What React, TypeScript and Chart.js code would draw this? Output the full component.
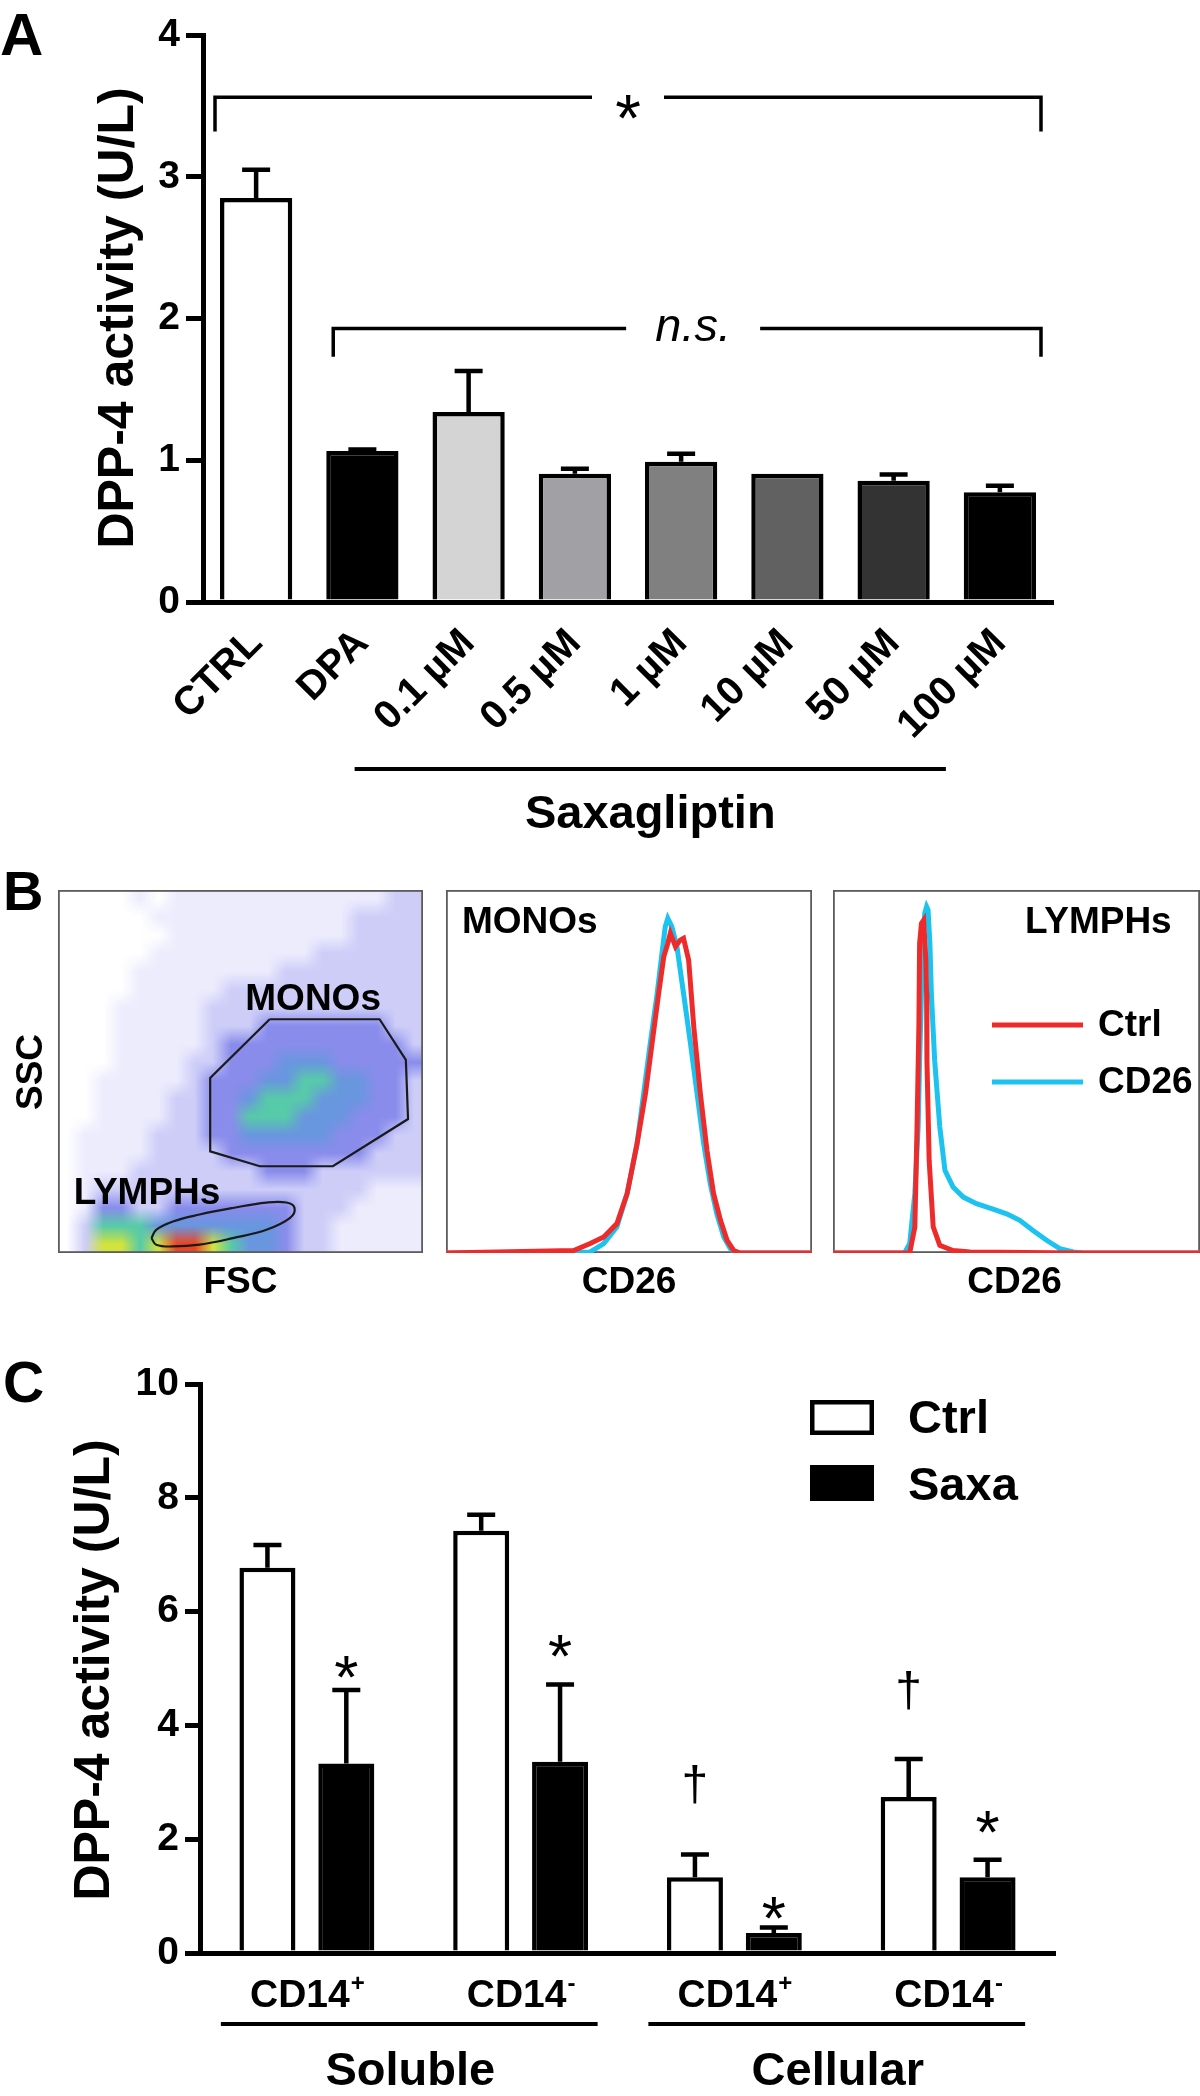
import React, { useEffect, useRef } from 'react';
import { Chart, registerables } from 'chart.js';

Chart.register(...registerables);

const FONT = '"Liberation Sans", Arial, Helvetica, sans-serif';
Chart.defaults.font.family = FONT;

// ---------------- Panel A data ----------------
const aCategories = ['CTRL', 'DPA', '0.1 µM', '0.5 µM', '1 µM', '10 µM', '50 µM', '100 µM'];
const aMeans = [2.85, 1.065, 1.34, 0.905, 0.99, 0.905, 0.855, 0.775];
const aErrTops = [3.05, 1.075, 1.63, 0.94, 1.045, 0.905, 0.9, 0.82];
const aFills = ['#ffffff', '#000000', '#d4d4d4', '#a1a1a5', '#808080', '#616161', '#333333', '#000000'];
const aYTicks = [0, 1, 2, 3, 4];
const aStarBracket = { from: 0, to: 7, y: 3.56, drop: 3.32 };
const aNsBracket = { from: 1, to: 7, y: 1.93, drop: 1.73 };
const aGroupLabel = 'Saxagliptin';
const yTitle = 'DPP-4 activity (U/L)';

// ---------------- Panel B data ----------------
// density levels of the FSC/SSC dot plot, read on a 20 x 20 grid (top row first)
const flowDensity = [
  '00001011111111111122',
  '00000111111111112222',
  '00000011111111112222',
  '00000111111111222222',
  '00001111111122222222',
  '00001111122222222222',
  '00011111222222222222',
  '00011111222333333322',
  '00011111233333333332',
  '00011112233344433333',
  '00111112333445544332',
  '00111122334555444332',
  '00111122335554443332',
  '01111222334444433322',
  '01111222233333333222',
  '01112222222333222222',
  '01222222222222222111',
  '01332233333332221111',
  '02555444444432211111',
  '02665677654432211111',
];
const densityColors = [
  'rgba(255,255,255,0)',
  'rgba(70,70,235,0.1)',
  'rgba(60,60,228,0.26)',
  'rgba(45,50,220,0.56)',
  'rgba(40,105,210,0.7)',
  'rgba(50,190,150,0.82)',
  'rgba(205,225,45,0.93)',
  'rgba(235,60,25,0.96)',
];
const monoGateX = [58.0, 88.1, 95.3, 95.9, 75.3, 55.3, 41.7, 41.7, 58.0];
const monoGateY = [64.4, 64.4, 53.2, 36.9, 23.9, 23.9, 28.0, 48.2, 64.4];
const lymphGateX = [25.6, 26.9, 31.5, 38.8, 47.9, 57.1, 62.6, 64.8, 63.5, 57.1, 47.9, 38.8, 31.5, 26.9, 25.6];
const lymphGateY = [4.1, 6.4, 8.7, 10.6, 12.4, 13.9, 13.9, 12.4, 9.6, 6.4, 4.1, 2.3, 1.8, 2.3, 4.1];

const monoCtrlX = [0, 34.9, 39.4, 43.1, 46.7, 49.5, 52.2, 54.5, 56.3, 58.1, 59.5, 60.6, 61.3, 62.7, 64.0, 64.9, 66.3, 67.7, 69.5, 71.3, 73.1, 75.0, 76.8, 78.6, 80.4, 100];
const monoCtrlY = [0, 0.7, 2.6, 4.4, 8.1, 16.4, 30.1, 43.9, 57.7, 71.5, 81.6, 85.3, 88.1, 84.4, 86.2, 86.7, 80.7, 62.3, 43.9, 28.3, 16.4, 9.0, 3.5, 0.7, 0, 0];
const monoCd26X = [0, 39.4, 43.1, 46.7, 49.5, 52.2, 54.0, 55.8, 57.7, 59.0, 59.9, 60.6, 61.7, 63.1, 64.9, 66.8, 68.6, 70.4, 72.2, 74.0, 75.9, 77.7, 79.5, 100];
const monoCd26Y = [0, 0.3, 2.6, 7.2, 16.4, 30.1, 43.9, 57.7, 71.5, 82.5, 89.9, 92.2, 89.9, 84.4, 71.5, 57.7, 43.9, 30.1, 19.1, 10.8, 4.4, 1.2, 0, 0];
const lymphCtrlX = [0, 20.9, 22.3, 22.9, 23.4, 23.6, 24.1, 24.7, 25.3, 25.5, 25.6, 26.2, 27.3, 29.1, 32.7, 37.3, 67.3, 100];
const lymphCtrlY = [0, 0, 7.2, 34.7, 62.3, 85.3, 90.8, 91.7, 80.7, 71.5, 53.1, 25.5, 7.2, 2.1, 0.7, 0.3, 0, 0];
const lymphCd26X = [0, 19.5, 20.9, 22.3, 23.2, 23.6, 24.1, 24.5, 25.0, 25.5, 25.9, 26.4, 26.8, 27.7, 29.1, 30.5, 32.7, 35.5, 39.1, 43.6, 47.3, 50.9, 54.5, 58.2, 61.8, 65.5, 68.2, 100];
const lymphCd26Y = [0, 0, 2.6, 16.4, 34.7, 53.1, 71.5, 85.3, 93.6, 95.4, 94.5, 85.3, 71.5, 53.1, 34.7, 22.8, 18.2, 15.4, 13.6, 12.1, 10.8, 9.0, 6.2, 3.5, 1.2, 0.3, 0, 0];
const histSeries = ['Ctrl', 'CD26'];
const RED = '#ee2b2b';
const CYAN = '#1cc3ef';

// ---------------- Panel C data ----------------
const cCategories = ['CD14+', 'CD14-', 'CD14+', 'CD14-'];
const cSeries = ['Ctrl', 'Saxa'];
const cCtrl = [6.77, 7.42, 1.33, 2.74];
const cCtrlErr = [7.17, 7.7, 1.73, 3.41];
const cSaxa = [3.33, 3.36, 0.35, 1.33];
const cSaxaErr = [4.62, 4.72, 0.45, 1.64];
const cSaxaStars = [5.11, 5.48, 0.87, 2.39];
const cCtrlDaggers = [null, null, 2.91, 4.57];
const cGroups = [
  { label: 'Soluble', from: 0, to: 1 },
  { label: 'Cellular', from: 2, to: 3 },
];
const cYTicks = [0, 2, 4, 6, 8, 10];

const pts = (xs: number[], ys: number[]) => xs.map((x, i) => ({ x, y: ys[i] }));

function drawStar(ctx: CanvasRenderingContext2D, x: number, yc: number, size: number) {
  ctx.font = `${size}px ${FONT}`;
  ctx.textAlign = 'center';
  ctx.textBaseline = 'alphabetic';
  ctx.fillText('*', x, yc + 0.575 * size);
}

function drawRotTitle(ctx: CanvasRenderingContext2D, text: string, x: number, y: number, size: number) {
  ctx.save();
  ctx.translate(x, y);
  ctx.rotate(-Math.PI / 2);
  ctx.font = `bold ${size}px ${FONT}`;
  ctx.textAlign = 'center';
  ctx.textBaseline = 'middle';
  ctx.fillText(text, 0, 0);
  ctx.restore();
}

function errorBars(ctx: CanvasRenderingContext2D, meta: any, ys: any, means: number[], tops: number[]) {
  ctx.lineWidth = 4.5;
  ctx.strokeStyle = '#000';
  meta.data.forEach((bar: any, i: number) => {
    const yTop = ys.getPixelForValue(means[i]);
    const yErr = ys.getPixelForValue(tops[i]);
    if (yTop - yErr < 1) return;
    ctx.beginPath();
    ctx.moveTo(bar.x, yTop);
    ctx.lineTo(bar.x, yErr);
    ctx.moveTo(bar.x - 14, yErr);
    ctx.lineTo(bar.x + 14, yErr);
    ctx.stroke();
  });
}

const tickFont = { family: FONT, size: 39, weight: 'bold' as const };

// ---------------- Panel A ----------------
const panelAPlugin = {
  id: 'panelA',
  afterDatasetsDraw(chart: any) {
    const ctx: CanvasRenderingContext2D = chart.ctx;
    const ys = chart.scales.y;
    const xs = chart.scales.x;
    const meta = chart.getDatasetMeta(0);
    ctx.save();
    ctx.fillStyle = '#000';
    errorBars(ctx, meta, ys, aMeans, aErrTops);

    // brackets
    ctx.lineWidth = 3.5;
    ctx.lineJoin = 'miter';
    const bracket = (b: any, dxL: number, dxR: number, gapHalf: number, textShift: number) => {
      const l = meta.data[b.from];
      const r = meta.data[b.to];
      const xL = l.x - l.width / 2 + dxL;
      const xR = r.x + r.width / 2 + dxR;
      const y = ys.getPixelForValue(b.y);
      const yd = ys.getPixelForValue(b.drop);
      const xc = (xL + xR) / 2 + textShift;
      ctx.beginPath();
      ctx.moveTo(xL, yd);
      ctx.lineTo(xL, y);
      ctx.lineTo(xc - gapHalf, y);
      ctx.moveTo(xc + gapHalf, y);
      ctx.lineTo(xR, y);
      ctx.lineTo(xR, yd);
      ctx.stroke();
      return { xc, y };
    };
    const s = bracket(aStarBracket, -5, 5, 36, 0);
    drawStar(ctx, s.xc, s.y + 6, 66);
    const n = bracket(aNsBracket, 7, 5, 67, 6);
    ctx.font = `italic 47px ${FONT}`;
    ctx.textAlign = 'center';
    ctx.textBaseline = 'alphabetic';
    ctx.fillText('n.s.', n.xc, n.y + 13);

    // Saxagliptin group line + label
    const gx0 = xs.getPixelForValue(2) - 114;
    const gx1 = xs.getPixelForValue(7) - 54;
    ctx.fillRect(gx0, 767, gx1 - gx0, 4);
    ctx.font = `bold 47px ${FONT}`;
    ctx.fillText(aGroupLabel, (gx0 + gx1) / 2, 828);

    drawRotTitle(ctx, yTitle, 119, 318, 50);
    ctx.font = `bold 60px ${FONT}`;
    ctx.textAlign = 'left';
    ctx.fillText('A', 0, 55);
    ctx.restore();
  },
};

const makePanelA = () => ({
  type: 'bar',
  data: {
    labels: aCategories,
    datasets: [
      {
        data: aMeans,
        backgroundColor: aFills,
        borderColor: '#000',
        borderWidth: 4.5,
        borderSkipped: 'start',
        barPercentage: 0.68,
        categoryPercentage: 1,
      },
    ],
  },
  options: {
    responsive: false,
    animation: false,
    devicePixelRatio: 1,
    layout: { padding: { left: 0, right: 147, top: 35, bottom: 0 } },
    plugins: { legend: { display: false }, tooltip: { enabled: false } },
    scales: {
      x: {
        grid: { display: false, drawTicks: false },
        border: { display: true, color: '#000', width: 5 },
        ticks: {
          autoSkip: false,
          minRotation: 45,
          maxRotation: 45,
          padding: 18,
          color: '#000',
          font: { family: FONT, size: 40, weight: 'bold' },
        },
        afterFit: (s: any) => {
          s.height = 258;
        },
      },
      y: {
        min: aYTicks[0],
        max: aYTicks[aYTicks.length - 1],
        afterBuildTicks: (s: any) => {
          s.ticks = aYTicks.map((v) => ({ value: v }));
        },
        ticks: { padding: 6, color: '#000', font: tickFont },
        grid: { drawOnChartArea: false, drawTicks: true, tickLength: 17, lineWidth: 5, color: '#000' },
        border: { display: true, color: '#000', width: 5 },
        afterFit: (s: any) => {
          s.width = 203;
        },
      },
    },
  },
  plugins: [panelAPlugin],
});

// ---------------- Panel B ----------------
const boxPlugin = (draw: (ctx: CanvasRenderingContext2D, chart: any) => void) => ({
  id: 'boxPlugin',
  beforeDatasetsDraw(chart: any) {
    const ctx: CanvasRenderingContext2D = chart.ctx;
    const a = chart.chartArea;
    ctx.save();
    ctx.strokeStyle = '#5c5c5c';
    ctx.lineWidth = 1.8;
    ctx.strokeRect(a.left + 0.9, a.top + 0.9, a.right - a.left - 1.8, a.bottom - a.top - 1.8);
    ctx.restore();
  },
  afterDraw(chart: any) {
    const ctx: CanvasRenderingContext2D = chart.ctx;
    ctx.save();
    ctx.fillStyle = '#000';
    draw(ctx, chart);
    ctx.restore();
  },
});

// density grid drawn as one small image (one pixel per cell), smoothly scaled onto the plot area
const heatPlugin = {
  id: 'heat',
  beforeDatasetsDraw(chart: any) {
    const ctx: CanvasRenderingContext2D = chart.ctx;
    const xs = chart.scales.x;
    const ys = chart.scales.y;
    const a = chart.chartArea;
    const rows = flowDensity.length;
    const cols = flowDensity[0].length;
    const small = document.createElement('canvas');
    small.width = cols;
    small.height = rows;
    const sctx = small.getContext('2d')!;
    for (let r = 0; r < rows; r++) {
      for (let c = 0; c < cols; c++) {
        const level = Number(flowDensity[r][c]);
        if (!level) continue;
        sctx.fillStyle = densityColors[level];
        sctx.fillRect(c, r, 1, 1);
      }
    }
    const x0 = xs.getPixelForValue(0);
    const x1 = xs.getPixelForValue(100);
    const y0 = ys.getPixelForValue(100);
    const y1 = ys.getPixelForValue(0);
    ctx.save();
    ctx.beginPath();
    ctx.rect(a.left, a.top, a.right - a.left, a.bottom - a.top);
    ctx.clip();
    ctx.imageSmoothingEnabled = true;
    (ctx as any).imageSmoothingQuality = 'medium';
    ctx.drawImage(small, x0, y0, x1 - x0, y1 - y0);
    ctx.restore();
  },
};

const flowScales = (pad: any) => ({
  responsive: false,
  animation: false,
  devicePixelRatio: 1,
  layout: { padding: pad },
  plugins: { legend: { display: false }, tooltip: { enabled: false } },
  scales: {
    x: { type: 'linear', min: 0, max: 100, display: false },
    y: { type: 'linear', min: 0, max: 100, display: false },
  },
});

const boldText = (ctx: CanvasRenderingContext2D, t: string, x: number, y: number, align: CanvasTextAlign, size = 36) => {
  ctx.font = `bold ${size}px ${FONT}`;
  ctx.textAlign = align;
  ctx.textBaseline = 'alphabetic';
  ctx.fillText(t, x, y);
};

const makeScatter = () => ({
  type: 'scatter',
  data: {
    datasets: [
      {
        label: 'MONOs gate',
        data: pts(monoGateX, monoGateY),
        showLine: true,
        pointRadius: 0,
        borderColor: '#1a1a1a',
        borderWidth: 2.2,
        tension: 0,
      },
      {
        label: 'LYMPHs gate',
        data: pts(lymphGateX, lymphGateY),
        showLine: true,
        pointRadius: 0,
        borderColor: '#1a1a1a',
        borderWidth: 2.2,
        tension: 0.4,
      },
    ],
  },
  options: flowScales({ left: 58, right: 17, top: 30, bottom: 47 }),
  plugins: [
    heatPlugin,
    boxPlugin((ctx, chart) => {
      const xs = chart.scales.x;
      const ys = chart.scales.y;
      boldText(ctx, 'B', 3, 50, 'left', 56);
      boldText(ctx, 'MONOs', xs.getPixelForValue(69.9), ys.getPixelForValue(70.5) + 13, 'center', 37);
      boldText(ctx, 'LYMPHs', xs.getPixelForValue(24.4), ys.getPixelForValue(17.1) + 13, 'center', 37);
      boldText(ctx, 'FSC', (chart.chartArea.left + chart.chartArea.right) / 2, 433, 'center', 37);
      ctx.save();
      ctx.translate(29, 212);
      ctx.rotate(-Math.PI / 2);
      boldText(ctx, 'SSC', 0, 13, 'center', 37);
      ctx.restore();
    }),
  ],
});

const histDatasets = (cx: number[], cy: number[], dx: number[], dy: number[]) => [
  {
    label: histSeries[0],
    data: pts(cx, cy),
    showLine: true,
    pointRadius: 0,
    borderColor: RED,
    borderWidth: 5,
    tension: 0,
  },
  {
    label: histSeries[1],
    data: pts(dx, dy),
    showLine: true,
    pointRadius: 0,
    borderColor: CYAN,
    borderWidth: 5,
    tension: 0,
  },
];

const makeMonoHist = () => ({
  type: 'scatter',
  data: { datasets: histDatasets(monoCtrlX, monoCtrlY, monoCd26X, monoCd26Y) },
  options: flowScales({ left: 6, right: 18, top: 30, bottom: 47 }),
  plugins: [
    boxPlugin((ctx, chart) => {
      boldText(ctx, 'MONOs', 22, 73, 'left', 37);
      boldText(ctx, 'CD26', (chart.chartArea.left + chart.chartArea.right) / 2, 433, 'center', 37);
    }),
  ],
});

const makeLymphHist = () => ({
  type: 'scatter',
  data: { datasets: histDatasets(lymphCtrlX, lymphCtrlY, lymphCd26X, lymphCd26Y) },
  options: flowScales({ left: 3, right: 0, top: 30, bottom: 47 }),
  plugins: [
    boxPlugin((ctx, chart) => {
      boldText(ctx, 'LYMPHs', 195, 73, 'left', 37);
      boldText(ctx, 'CD26', (chart.chartArea.left + chart.chartArea.right) / 2 - 2, 433, 'center', 37);
      ctx.lineWidth = 5;
      ctx.strokeStyle = RED;
      ctx.beginPath();
      ctx.moveTo(162, 165);
      ctx.lineTo(253, 165);
      ctx.stroke();
      ctx.strokeStyle = CYAN;
      ctx.beginPath();
      ctx.moveTo(162, 222);
      ctx.lineTo(253, 222);
      ctx.stroke();
      boldText(ctx, histSeries[0], 268, 176, 'left', 37);
      boldText(ctx, histSeries[1], 268, 233, 'left', 37);
    }),
  ],
});

// ---------------- Panel C ----------------
const panelCPlugin = {
  id: 'panelC',
  afterDatasetsDraw(chart: any) {
    const ctx: CanvasRenderingContext2D = chart.ctx;
    const ys = chart.scales.y;
    const xs = chart.scales.x;
    const mCtrl = chart.getDatasetMeta(0);
    const mSaxa = chart.getDatasetMeta(1);
    ctx.save();
    ctx.fillStyle = '#000';
    errorBars(ctx, mCtrl, ys, cCtrl, cCtrlErr);
    errorBars(ctx, mSaxa, ys, cSaxa, cSaxaErr);

    cSaxaStars.forEach((v, i) => {
      if (v == null) return;
      drawStar(ctx, mSaxa.data[i].x, ys.getPixelForValue(v), 62);
    });
    cCtrlDaggers.forEach((v, i) => {
      if (v == null) return;
      ctx.font = `48px ${FONT}`;
      ctx.textAlign = 'center';
      ctx.textBaseline = 'alphabetic';
      ctx.fillText('†', mCtrl.data[i].x, ys.getPixelForValue(v) + 13);
    });

    // category labels with superscripts
    cCategories.forEach((lab, i) => {
      const base = lab.slice(0, -1);
      const sup = lab.slice(-1);
      ctx.font = `bold 39px ${FONT}`;
      const wb = ctx.measureText(base).width;
      ctx.font = `bold 24px ${FONT}`;
      const ws = ctx.measureText(sup).width;
      const x0 = xs.getPixelForValue(i) - (wb + ws) / 2;
      ctx.textAlign = 'left';
      ctx.textBaseline = 'alphabetic';
      ctx.font = `bold 39px ${FONT}`;
      ctx.fillText(base, x0, 707);
      ctx.font = `bold 24px ${FONT}`;
      ctx.fillText(sup, x0 + wb + 1, 691);
    });

    // group lines and labels
    cGroups.forEach((g) => {
      const x0 = xs.getPixelForValue(g.from) - 86;
      const x1 = xs.getPixelForValue(g.to) + 77;
      ctx.fillRect(x0, 722, x1 - x0, 4);
      ctx.font = `bold 47px ${FONT}`;
      ctx.textAlign = 'center';
      ctx.textBaseline = 'alphabetic';
      ctx.fillText(g.label, (x0 + x1) / 2 + 1, 785);
    });

    // legend
    ctx.lineWidth = 4.5;
    ctx.strokeStyle = '#000';
    ctx.strokeRect(812.25, 102.25, 59.5, 30.5);
    ctx.fillRect(810, 165, 64, 36);
    ctx.font = `bold 47px ${FONT}`;
    ctx.textAlign = 'left';
    ctx.fillText(cSeries[0], 908, 133);
    ctx.fillText(cSeries[1], 908, 200);

    drawRotTitle(ctx, yTitle, 95, 370, 50);
    ctx.font = `bold 57px ${FONT}`;
    ctx.textAlign = 'left';
    ctx.fillText('C', 3, 102);
    ctx.restore();
  },
};

const makePanelC = () => ({
  type: 'bar',
  data: {
    labels: cCategories,
    datasets: [
      {
        label: cSeries[0],
        data: cCtrl,
        backgroundColor: '#ffffff',
        borderColor: '#000',
        borderWidth: 4.5,
        barPercentage: 0.71,
        categoryPercentage: 0.738,
      },
      {
        label: cSeries[1],
        data: cSaxa,
        backgroundColor: '#000000',
        borderColor: '#000',
        borderWidth: 4.5,
        barPercentage: 0.71,
        categoryPercentage: 0.738,
      },
    ],
  },
  options: {
    responsive: false,
    animation: false,
    devicePixelRatio: 1,
    layout: { padding: { left: 0, right: 145, top: 84, bottom: 0 } },
    plugins: { legend: { display: false }, tooltip: { enabled: false } },
    scales: {
      x: {
        grid: { display: false, drawTicks: false },
        border: { display: true, color: '#000', width: 5 },
        ticks: { display: false },
        afterFit: (s: any) => {
          s.height = 143;
        },
      },
      y: {
        min: cYTicks[0],
        max: cYTicks[cYTicks.length - 1],
        afterBuildTicks: (s: any) => {
          s.ticks = cYTicks.map((v) => ({ value: v }));
        },
        ticks: { padding: 6, color: '#000', font: tickFont },
        grid: { drawOnChartArea: false, drawTicks: true, tickLength: 15, lineWidth: 5, color: '#000' },
        border: { display: true, color: '#000', width: 5 },
        afterFit: (s: any) => {
          s.width = 200;
        },
      },
    },
  },
  plugins: [panelCPlugin],
});

// ---------------- Components ----------------
type Box = { left: number; top: number; width: number; height: number };

function ChartCanvas({ box, make }: { box: Box; make: () => any }) {
  const ref = useRef<HTMLCanvasElement | null>(null);
  useEffect(() => {
    if (!ref.current) return;
    const chart = new Chart(ref.current, make());
    return () => chart.destroy();
  }, []);
  return (
    <canvas
      ref={ref}
      width={box.width}
      height={box.height}
      style={{ position: 'absolute', left: box.left, top: box.top, width: box.width, height: box.height }}
    />
  );
}

export default function App() {
  return (
    <div style={{ position: 'absolute', left: 0, top: 0, width: 1200, height: 2096, background: '#fff', overflow: 'hidden' }}>
      <ChartCanvas box={{ left: 0, top: 0, width: 1200, height: 860 }} make={makePanelA} />
      <ChartCanvas box={{ left: 0, top: 860, width: 440, height: 440 }} make={makeScatter} />
      <ChartCanvas box={{ left: 440, top: 860, width: 390, height: 440 }} make={makeMonoHist} />
      <ChartCanvas box={{ left: 830, top: 860, width: 370, height: 440 }} make={makeLymphHist} />
      <ChartCanvas box={{ left: 0, top: 1300, width: 1200, height: 796 }} make={makePanelC} />
    </div>
  );
}
